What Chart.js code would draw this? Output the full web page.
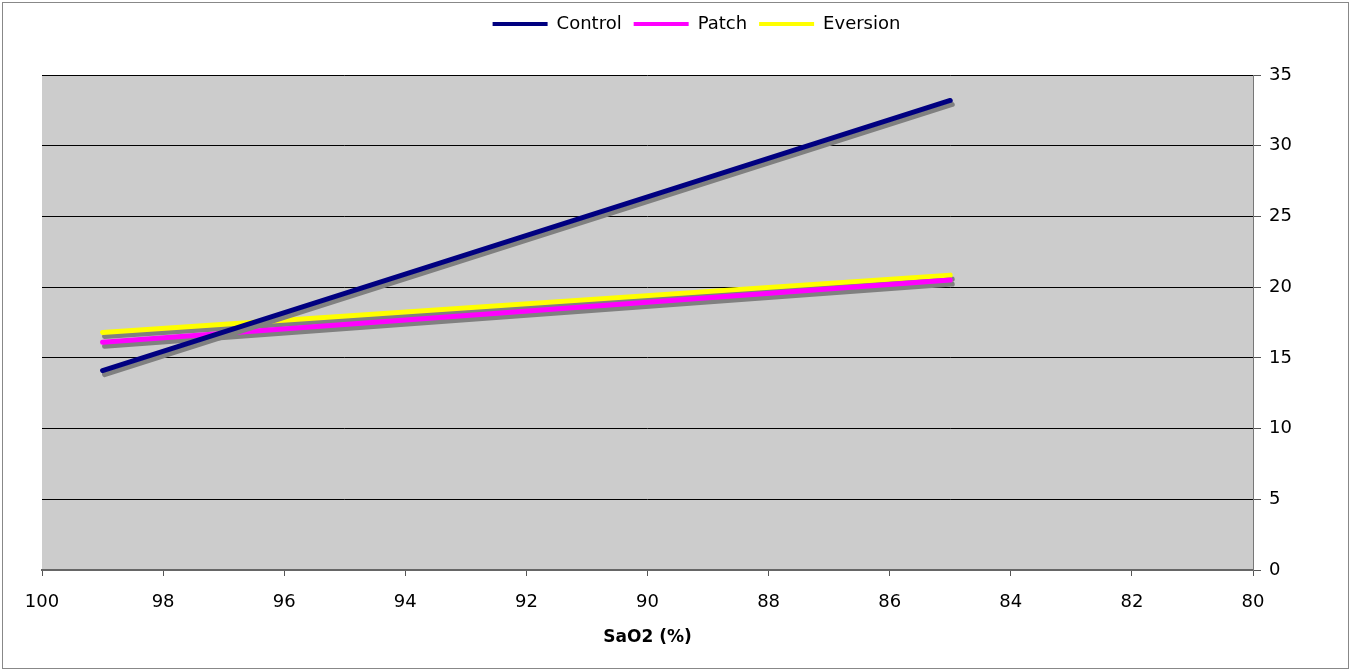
<!DOCTYPE html>
<html lang="en">
<head>
    <meta charset="utf-8">
    <title>SaO2 trend lines</title>
    <script src="https://cdn.jsdelivr.net/npm/chart.js"></script>
    <style>
        body { margin: 0; padding: 0; background: #ffffff; }
        #chart-container { width: 1351px; height: 671px; }
    </style>
</head>
<body>
<div id="chart-container">
    <canvas id="sao2Chart" width="1351" height="671"></canvas>
</div>
<script>
    // trend line end points
    const sao2 = [99, 85];
    const controlValues = [14.1, 33.2];
    const patchValues = [16.1, 20.5];
    const eversionValues = [16.8, 20.85];

    const xTicks = [100, 98, 96, 94, 92, 90, 88, 86, 84, 82, 80];
    const yTicks = [0, 5, 10, 15, 20, 25, 30, 35];

    function toPoints(values) {
        return sao2.map((x, i) => ({ x: x, y: values[i] }));
    }

    // white page with the thin grey frame and grey plot area
    const frame = {
        id: 'frame',
        beforeDraw(chart) {
            const c = chart.ctx;
            const a = chart.chartArea;
            c.save();
            c.fillStyle = '#ffffff';
            c.fillRect(0, 0, chart.width, chart.height);
            c.strokeStyle = '#888888';
            c.lineWidth = 1;
            c.strokeRect(2.5, 2.5, chart.width - 5, chart.height - 5);
            c.fillStyle = '#cccccc';
            c.fillRect(a.left, a.top, a.right - a.left, a.bottom - a.top);
            c.restore();
        },
        beforeInit(chart) {
            const fit = chart.legend.fit;
            chart.legend.fit = function () {
                fit.bind(chart.legend)();
                this.height = 72;
            };
        }
    };

    // grey drop shadow under each line
    const shadow = {
        id: 'shadow',
        beforeDatasetDraw(chart) {
            const c = chart.ctx;
            c.save();
            c.shadowColor = '#808080';
            c.shadowBlur = 0;
            c.shadowOffsetX = 2;
            c.shadowOffsetY = 4;
        },
        afterDatasetDraw(chart) {
            chart.ctx.restore();
        }
    };

    const font = { family: "'DejaVu Sans', Verdana, sans-serif", size: 18 };

    const ctx = document.getElementById('sao2Chart').getContext('2d');
    new Chart(ctx, {
        type: 'line',
        data: {
            datasets: [
                {
                    label: 'Control',
                    data: toPoints(controlValues),
                    borderColor: '#000080',
                    backgroundColor: '#000080',
                },
                {
                    label: 'Patch',
                    data: toPoints(patchValues),
                    borderColor: '#ff00ff',
                    backgroundColor: '#ff00ff',
                },
                {
                    label: 'Eversion',
                    data: toPoints(eversionValues),
                    borderColor: '#ffff00',
                    backgroundColor: '#ffff00',
                }
            ]
        },
        options: {
            responsive: false,
            animation: false,
            layout: { padding: { left: 42, top: 3, right: 0, bottom: 0 } },
            elements: {
                line: { borderWidth: 5, borderCapStyle: 'round', tension: 0, fill: false },
                point: { radius: 0, pointStyle: 'line', borderWidth: 4 }
            },
            scales: {
                x: {
                    type: 'linear',
                    reverse: true,
                    min: 80,
                    max: 100,
                    afterBuildTicks(scale) {
                        scale.ticks = xTicks.map(v => ({ value: v }));
                    },
                    afterFit(scale) { scale.height = 101; },
                    grid: {
                        display: true,
                        drawOnChartArea: false,
                        drawTicks: true,
                        tickLength: 6,
                        color: '#555555',
                        lineWidth: 1
                    },
                    border: { display: true, color: '#666666', width: 2 },
                    ticks: { color: '#000000', font: font, padding: 16, maxRotation: 0 },
                    title: {
                        display: true,
                        text: 'SaO2 (%)',
                        color: '#000000',
                        font: { family: font.family, size: 17, weight: 'bold' },
                        padding: { top: 10, bottom: 23 }
                    }
                },
                y: {
                    position: 'right',
                    min: 0,
                    max: 35,
                    afterBuildTicks(scale) {
                        scale.ticks = yTicks.map(v => ({ value: v }));
                    },
                    afterFit(scale) { scale.width = 98; },
                    grid: {
                        color: '#000000',
                        lineWidth: 1,
                        drawTicks: true,
                        tickLength: 8,
                        tickColor: '#555555'
                    },
                    border: { display: true, color: '#777777', width: 1 },
                    ticks: { color: '#000000', font: font, padding: 8 }
                }
            },
            plugins: {
                legend: {
                    position: 'top',
                    labels: {
                        color: '#000000',
                        font: font,
                        usePointStyle: true,
                        pointStyleWidth: 55,
                        boxHeight: 18,
                        padding: 12
                    }
                },
                tooltip: { enabled: false }
            }
        },
        plugins: [frame, shadow]
    });
</script>
</body>
</html>
